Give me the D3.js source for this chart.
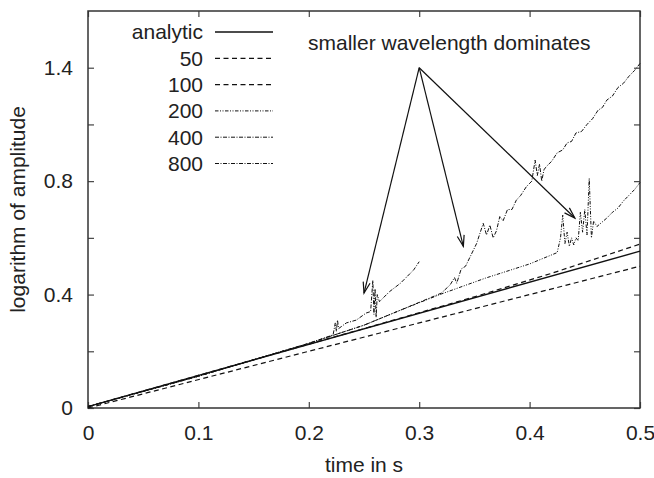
<!DOCTYPE html>
<html>
<head>
<meta charset="utf-8">
<script src="https://cdn.jsdelivr.net/npm/d3@7"></script>
<style>
  html, body { margin: 0; padding: 0; background: #fff; }
  svg { display: block; font-family: "Liberation Sans", Arial, Helvetica, sans-serif; }
</style>
</head>
<body>
<svg id="chart" width="654" height="478"></svg>
<script>
// ---------- data ----------
const xTicks = [0, 0.1, 0.2, 0.3, 0.4, 0.5];
const xTickLabels = ["0", "0.1", "0.2", "0.3", "0.4", "0.5"];
const yTicks = [0, 0.2, 0.4, 0.6, 0.8, 1.0, 1.2];
const yTickLabels = ["0", "", "0.4", "", "0.8", "", "1.4"];

const seriesNames = ["analytic", "50", "100", "200", "400", "800"];

const analytic = [[0, 0.005], [0.5, 0.553]];
const res50 = [[0, 0.0], [0.5, 0.50]];
const res100 = [[0, 0.005], [0.25, 0.28], [0.35, 0.392], [0.42, 0.475], [0.5, 0.578]];
const res200 = [
  [0, 0.005], [0.1, 0.112], [0.2, 0.228], [0.25, 0.292], [0.283, 0.345], [0.32, 0.402],
  [0.36, 0.458], [0.4, 0.508], [0.425, 0.548], [0.428, 0.60], [0.430, 0.68], [0.432, 0.58],
  [0.434, 0.62], [0.436, 0.57], [0.438, 0.60], [0.440, 0.575], [0.442, 0.60], [0.444, 0.59],
  [0.446, 0.69], [0.448, 0.62], [0.450, 0.70], [0.452, 0.61], [0.454, 0.81], [0.456, 0.60],
  [0.458, 0.66], [0.461, 0.64], [0.47, 0.67], [0.475, 0.69], [0.48, 0.705], [0.485, 0.73],
  [0.49, 0.75], [0.495, 0.77], [0.5, 0.795]
];
const res400 = [
  [0, 0.005], [0.1, 0.112], [0.2, 0.228], [0.25, 0.292], [0.283, 0.345], [0.32, 0.405],
  [0.328, 0.434], [0.332, 0.46], [0.334, 0.44], [0.338, 0.49], [0.342, 0.50], [0.347, 0.54],
  [0.352, 0.58], [0.355, 0.616], [0.358, 0.651], [0.361, 0.61], [0.364, 0.645], [0.367, 0.60],
  [0.370, 0.625], [0.373, 0.675], [0.376, 0.66], [0.38, 0.70], [0.384, 0.70], [0.388, 0.733],
  [0.392, 0.75], [0.397, 0.78], [0.402, 0.80], [0.405, 0.874], [0.407, 0.82], [0.409, 0.86],
  [0.411, 0.80], [0.413, 0.84], [0.415, 0.851], [0.42, 0.87], [0.425, 0.90], [0.43, 0.91],
  [0.434, 0.935], [0.438, 0.94], [0.442, 0.97], [0.447, 0.975], [0.452, 1.0], [0.457, 1.02],
  [0.462, 1.05], [0.466, 1.06], [0.47, 1.086], [0.475, 1.10], [0.48, 1.13], [0.485, 1.145],
  [0.49, 1.17], [0.495, 1.19], [0.5, 1.215]
];
const res800 = [
  [0, 0.005], [0.1, 0.112], [0.2, 0.228], [0.222, 0.258], [0.224, 0.30], [0.225, 0.27],
  [0.226, 0.31], [0.227, 0.28], [0.234, 0.30], [0.243, 0.31], [0.252, 0.335], [0.256, 0.34],
  [0.258, 0.45], [0.259, 0.33], [0.260, 0.42], [0.261, 0.32], [0.262, 0.40], [0.264, 0.375],
  [0.273, 0.41], [0.283, 0.44], [0.295, 0.487], [0.3, 0.516]
];

const arrowFrom = [0.3, 1.2];
const arrowTargets = [[0.25, 0.405], [0.34, 0.57], [0.441, 0.67]];
const annotationText = "smaller wavelength dominates";

// ---------- layout ----------
const svg = d3.select("#chart");
const pLeft = 88, pRight = 640, pTop = 11, pBottom = 408;
const x = d3.scaleLinear().domain([0, 0.5]).range([pLeft, pRight]);
const y = d3.scaleLinear().domain([0, 1.4]).range([pBottom, pTop]);
const textColor = "#222";
const fontSize = 21;

const styles = {
  "analytic": { dash: null, width: 1.4 },
  "50": { dash: "5,3.5", width: 1.2 },
  "100": { dash: "5,3.5", width: 1.2 },
  "200": { dash: "3.5,1.5,1,1.5,1,1.5", width: 1.0 },
  "400": { dash: "4,1.5,1,1.5", width: 1.0 },
  "800": { dash: "4,1.5,1,1.5", width: 1.0 }
};
const seriesData = { "analytic": analytic, "50": res50, "100": res100, "200": res200, "400": res400, "800": res800 };

// ---------- axes ----------
function styleAxis(g) {
  g.select(".domain").remove();
  g.selectAll(".tick line").attr("stroke", "#444").attr("stroke-width", 1.2);
  g.selectAll("text").attr("fill", textColor).attr("font-size", fontSize).attr("font-family", "Liberation Sans, Arial, sans-serif");
}
svg.append("g").attr("transform", `translate(0,${pBottom})`)
  .call(d3.axisBottom(x).tickValues(xTicks).tickSize(-6).tickPadding(17)
    .tickFormat((d, i) => xTickLabels[i]))
  .call(styleAxis);
svg.append("g").attr("transform", `translate(0,${pTop})`)
  .call(d3.axisTop(x).tickValues(xTicks).tickSize(-6).tickFormat(""))
  .call(styleAxis);
svg.append("g").attr("transform", `translate(${pLeft},0)`)
  .call(d3.axisLeft(y).tickValues(yTicks).tickSize(-6).tickPadding(15)
    .tickFormat((d, i) => yTickLabels[i]))
  .call(styleAxis);
svg.append("g").attr("transform", `translate(${pRight},0)`)
  .call(d3.axisRight(y).tickValues(yTicks).tickSize(-6).tickFormat(""))
  .call(styleAxis);

svg.append("rect").attr("x", pLeft).attr("y", pTop)
  .attr("width", pRight - pLeft).attr("height", pBottom - pTop)
  .attr("fill", "none").attr("stroke", "#333").attr("stroke-width", 1.5);

// axis titles
svg.append("text").attr("x", (pLeft + pRight) / 2).attr("y", 472)
  .attr("text-anchor", "middle").attr("fill", textColor).attr("font-size", fontSize)
  .text("time in s");
svg.append("text").attr("transform", `translate(25,${(pTop + pBottom) / 2}) rotate(-90)`)
  .attr("text-anchor", "middle").attr("fill", textColor).attr("font-size", fontSize)
  .text("logarithm of amplitude");

// ---------- lines ----------
const line = d3.line().x(d => x(d[0])).y(d => y(d[1]));
const plot = svg.append("g");
seriesNames.forEach(name => {
  plot.append("path").datum(seriesData[name])
    .attr("d", line)
    .attr("fill", "none").attr("stroke", "#111")
    .attr("stroke-width", styles[name].width)
    .attr("stroke-dasharray", styles[name].dash);
});

// ---------- legend ----------
const legend = svg.append("g");
seriesNames.forEach((name, i) => {
  const ly = 32 + i * 26.3;
  legend.append("text").attr("x", 203).attr("y", ly).attr("dy", "0.35em")
    .attr("text-anchor", "end").attr("fill", textColor).attr("font-size", fontSize)
    .text(name);
  legend.append("line").attr("x1", 215).attr("x2", 273).attr("y1", ly).attr("y2", ly)
    .attr("stroke", "#111").attr("stroke-width", styles[name].width)
    .attr("stroke-dasharray", styles[name].dash);
});

// ---------- annotation ----------
svg.append("defs").append("marker")
  .attr("id", "arrowhead").attr("viewBox", "-12 -6 14 12")
  .attr("refX", 0).attr("refY", 0)
  .attr("markerWidth", 14).attr("markerHeight", 12)
  .attr("markerUnits", "userSpaceOnUse").attr("orient", "auto")
  .append("path").attr("d", "M-11,-3.5 L0,0 L-11,3.5")
  .attr("fill", "none").attr("stroke", "#111").attr("stroke-width", 1.2);

arrowTargets.forEach(t => {
  svg.append("line")
    .attr("x1", x(arrowFrom[0])).attr("y1", y(arrowFrom[1]))
    .attr("x2", x(t[0])).attr("y2", y(t[1]))
    .attr("stroke", "#111").attr("stroke-width", 1.2)
    .attr("marker-end", "url(#arrowhead)");
});
svg.append("text").attr("x", 308).attr("y", 50)
  .attr("fill", textColor).attr("font-size", fontSize)
  .text(annotationText);
</script>
</body>
</html>
